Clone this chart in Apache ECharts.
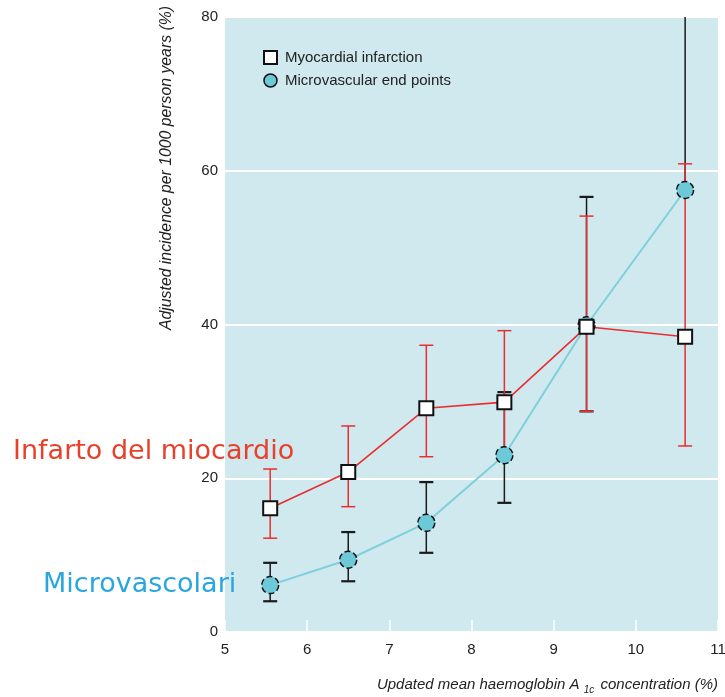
<!DOCTYPE html>
<html>
<head>
<meta charset="utf-8">
<script src="https://cdn.jsdelivr.net/npm/echarts@6/dist/echarts.min.js"></script>
<style>
html,body{margin:0;padding:0;background:#fff;}
#c{width:725px;height:697px;}
</style>
</head>
<body>
<div id="c"></div>
<script>
// ---- data ----
var xValues = [5.55, 6.5, 7.45, 8.4, 9.4, 10.6];
var miValues = [16.1, 20.8, 29.1, 29.9, 39.7, 38.4];
var miUpper = [21.2, 26.8, 37.3, 39.2, 54.1, 60.9];
var miLower = [12.2, 16.3, 22.8, 23.0, 28.7, 24.2];
var mvValues = [6.1, 9.4, 14.2, 23.0, 39.9, 57.5];
var mvUpper = [9.0, 13.0, 19.5, 31.2, 56.6, 90];
var mvLower = [4.0, 6.6, 10.3, 16.8, 28.7, null];
var xTicks = [5, 6, 7, 8, 9, 10, 11];
var yTicks = [0, 20, 40, 60, 80];
var seriesNames = ['Myocardial infarction', 'Microvascular end points'];

var SANS = '"Liberation Sans Narrow", "Liberation Sans", Arial, sans-serif';

function pairs(xs, ys) { return xs.map(function (x, i) { return [x, ys[i]]; }); }
function errData(xs, lo, hi, mid) { return xs.map(function (x, i) { return [x, lo[i] === null ? '-' : lo[i], hi[i], mid[i]]; }); }

function errRender(color, capW, capLW) {
  return function (params, api) {
    var cs = params.coordSys;
    var x = api.value(0);
    var lo = api.value(1), hi = api.value(2), mid = api.value(3);
    var hasLo = !(lo === null || lo === '-' || isNaN(lo));
    var pHi = api.coord([x, hi]);
    var pMid = api.coord([x, mid]);
    var pLo = hasLo ? api.coord([x, lo]) : null;
    var topClamp = Math.max(pHi[1], cs.y);
    var yBottom = pLo ? pLo[1] : pMid[1];
    var children = [];
    children.push({ type: 'line', shape: { x1: pHi[0], y1: topClamp, x2: pHi[0], y2: yBottom },
      style: { stroke: color, lineWidth: 1.5 } });
    if (pHi[1] >= cs.y) {
      children.push({ type: 'line', shape: { x1: pHi[0] - capW / 2, y1: pHi[1], x2: pHi[0] + capW / 2, y2: pHi[1] },
        style: { stroke: color, lineWidth: capLW } });
    }
    if (pLo) {
      children.push({ type: 'line', shape: { x1: pLo[0] - capW / 2, y1: pLo[1], x2: pLo[0] + capW / 2, y2: pLo[1] },
        style: { stroke: color, lineWidth: capLW } });
    }
    return { type: 'group', children: children };
  };
}

var chart = echarts.init(document.getElementById('c'), null, { renderer: 'canvas' });
var option = {
  animation: false,
  backgroundColor: '#ffffff',
  grid: { left: 225, right: 7, top: 17, bottom: 65, show: true, backgroundColor: '#cfe9ef', borderWidth: 0,
    containLabel: false, outerBoundsMode: 'none' },
  xAxis: {
    type: 'value', min: xTicks[0], max: xTicks[xTicks.length - 1], interval: 1,
    axisLine: { show: false },
    axisTick: { show: true, inside: true, length: 12, lineStyle: { color: '#ffffff', width: 1.5 } },
    splitLine: { show: false },
    axisLabel: { color: '#222', fontFamily: SANS, fontSize: 15, margin: 10 }
  },
  yAxis: {
    type: 'value', min: yTicks[0], max: yTicks[yTicks.length - 1], interval: 20,
    axisLine: { show: false }, axisTick: { show: false },
    splitLine: { show: true, lineStyle: { color: '#ffffff', width: 2 } },
    axisLabel: { color: '#222', fontFamily: SANS, fontSize: 15, margin: 7 }
  },
  legend: {
    orient: 'vertical', left: 258, top: 45, itemGap: 8, itemWidth: 13, itemHeight: 13,
    textStyle: { color: '#222', fontFamily: SANS, fontSize: 15, padding: [0, 0, 0, 3] },
    data: [
      { name: seriesNames[0], icon: 'rect', itemStyle: { color: '#ffffff', borderColor: '#111', borderWidth: 2 } },
      { name: seriesNames[1], icon: 'circle', itemStyle: { color: '#6ccad8', borderColor: '#111', borderWidth: 1.5 } }
    ]
  },
  series: [
    { type: 'line', name: 'mvline', data: pairs(xValues, mvValues), symbol: 'none',
      lineStyle: { color: '#7dd0dc', width: 2 }, z: 2 },
    { type: 'line', name: 'miline', data: pairs(xValues, miValues), symbol: 'none',
      lineStyle: { color: '#ea2d2f', width: 1.6 }, z: 3 },
    { type: 'custom', name: 'mverr', data: errData(xValues, mvLower, mvUpper, mvValues), clip: false,
      renderItem: errRender('#1a1a1a', 14, 2.2), z: 4 },
    { type: 'custom', name: 'mierr', data: errData(xValues, miLower, miUpper, miValues), clip: false,
      renderItem: errRender('#ea2d2f', 14, 1.5), z: 5 },
    { type: 'scatter', name: seriesNames[1], data: pairs(xValues, mvValues), symbol: 'circle', symbolSize: 17,
      itemStyle: { color: '#6ccad8', borderColor: '#111', borderWidth: 1.5, borderType: 'dashed', opacity: 1 }, z: 6 },
    { type: 'scatter', name: seriesNames[0], data: pairs(xValues, miValues), symbol: 'rect', symbolSize: 14,
      itemStyle: { color: '#ffffff', borderColor: '#111', borderWidth: 2, opacity: 1 }, z: 7 }
  ],
  graphic: [
    { type: 'text', left: 13, top: 438, z: 10,
      style: { text: 'Infarto del miocardio', fill: '#e8402a', font: '27px "DejaVu Sans", sans-serif' } },
    { type: 'text', left: 43, top: 571, z: 10,
      style: { text: 'Microvascolari', fill: '#2aa6df', font: '27px "DejaVu Sans", sans-serif' } },
    { type: 'text', x: 167, y: 168, rotation: Math.PI / 2, z: 10,
      style: { text: 'Adjusted incidence per 1000 person years (%)', fill: '#222',
        font: 'italic 15.8px ' + SANS, align: 'center', verticalAlign: 'middle' } },
    { type: 'text', right: 7, top: 677, z: 10,
      style: { text: '{n|Updated mean haemoglobin A }{s|1c}{n| concentration (%)}', fill: '#222',
        rich: {
          n: { fontFamily: SANS, fontStyle: 'italic', fontSize: 15, lineHeight: 20, verticalAlign: 'middle' },
          s: { fontFamily: SANS, fontStyle: 'italic', fontSize: 10, lineHeight: 20, verticalAlign: 'bottom', padding: [8, 2, 0, 0] }
        } } }
  ]
};
chart.setOption(option);
</script>
</body>
</html>
